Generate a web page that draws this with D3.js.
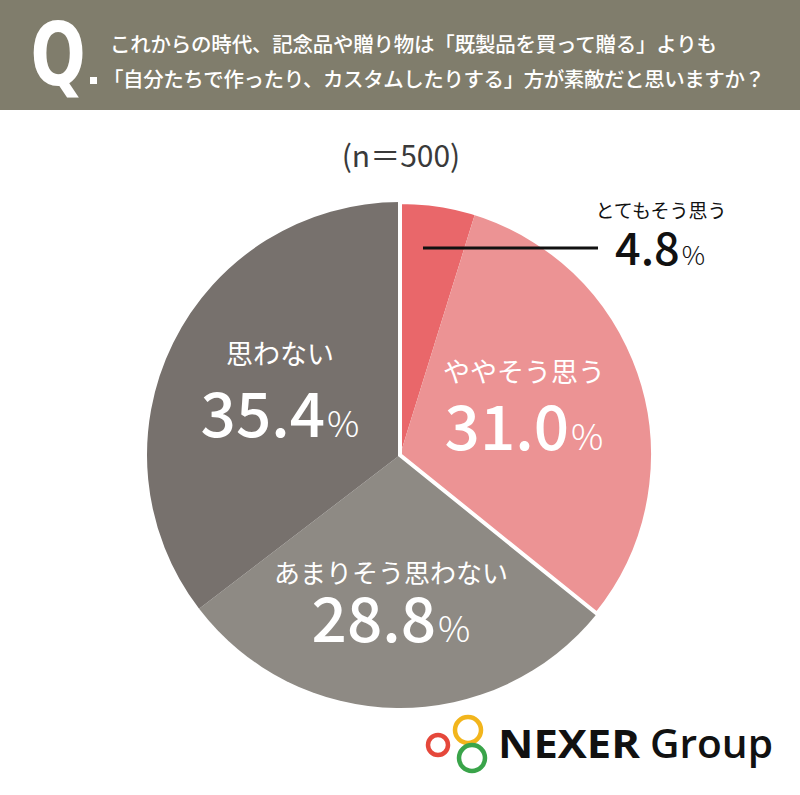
<!DOCTYPE html>
<html><head><meta charset="utf-8">
<script src="https://cdn.jsdelivr.net/npm/d3@7"></script>
<style>body{margin:0;background:#fff}svg{display:block}</style>
</head><body>
<script>
const categories = ["とてもそう思う","ややそう思う","あまりそう思わない","思わない"];
const values = [4.8, 31.0, 28.8, 35.4];
const colors = ["#e9676a","#ec9394","#8e8a84","#77716d"];
const question = ["これからの時代、記念品や贈り物は「既製品を買って贈る」よりも","「自分たちで作ったり、カスタムしたりする」方が素敵だと思いますか？"];
const sampleLabel = "(n=500)";

const W=800,H=795, cx=400, cy=455, R=253;
const jp = "'Noto Sans CJK JP','Noto Sans',sans-serif";
const num = "'Noto Sans CJK JP','Noto Sans',sans-serif";
const svg = d3.select("body").append("svg").attr("width",W).attr("height",H);

// header
svg.append("rect").attr("x",0).attr("y",0).attr("width",W).attr("height",110).attr("fill","#807d6c");
svg.append("text").attr("x",58).attr("y",85).attr("text-anchor","middle")
  .attr("font-family","'DejaVu Sans Condensed','DejaVu Sans',sans-serif").attr("font-weight","bold")
  .attr("font-size",88).attr("fill","#fff").attr("transform","translate(58,85) scale(0.82,1) translate(-58,-85)").text("Q");
svg.append("rect").attr("x",90).attr("y",77).attr("width",7).attr("height",7).attr("fill","#fff");
svg.append("text").attr("x",110).attr("y",52).attr("font-family",jp).attr("font-size",20.5).attr("font-weight",500)
  .attr("fill","#fff").attr("textLength",607).text(question[0]);
svg.append("text").attr("x",103).attr("y",87).attr("font-family",jp).attr("font-size",20.5).attr("font-weight",500)
  .attr("fill","#fff").attr("textLength",662).text(question[1]);

svg.append("text").attr("x",401).attr("y",167).attr("text-anchor","middle").attr("font-family",jp)
  .attr("font-size",30).attr("fill","#3a3a3a").text(sampleLabel.replace("=","＝"));

// pie
const pie = d3.pie().sort(null).value(d=>d)(values);
const arc = d3.arc().innerRadius(0).outerRadius(R);
const g = svg.append("g").attr("transform",`translate(${cx},${cy})`);
g.selectAll("path.s").data(pie).join("path").attr("class","s")
  .attr("d",arc).attr("fill",(d,i)=>colors[i]);
// white outline around the "agree" group
g.append("path").attr("d",arc({startAngle:pie[0].startAngle,endAngle:pie[1].endAngle}))
  .attr("fill","none").attr("stroke","#fff").attr("stroke-width",4).attr("stroke-linejoin","miter");

// labels
const labelPos = [null,{x:524,cat:382,num:450},{x:391,cat:583,num:642},{x:280,cat:364,num:437}];
const catSize=[0,27,26,27];
labelPos.forEach((p,i)=>{
  if(!p) return;
  svg.append("text").attr("x",p.x).attr("y",p.cat).attr("text-anchor","middle").attr("font-family",jp)
    .attr("font-size",catSize[i]).attr("fill","#fff").text(categories[i]);
  const t=svg.append("text").attr("x",p.x).attr("y",p.num).attr("text-anchor","middle").attr("font-family",num)
    .attr("fill","#fff");
  t.append("tspan").attr("font-size",62).attr("font-weight",500).text(values[i].toFixed(1));
  t.append("tspan").attr("font-size",36).attr("font-weight",300).attr("dx",2).text("%");
});
// small slice callout
svg.append("line").attr("x1",423).attr("x2",598).attr("y1",248).attr("y2",248).attr("stroke","#111").attr("stroke-width",3);
svg.append("text").attr("x",661).attr("y",218).attr("text-anchor","middle").attr("font-family",jp)
  .attr("font-size",19).attr("fill","#111").text(categories[0]);
const t0=svg.append("text").attr("x",615).attr("y",265).attr("font-family",num).attr("fill","#111");
t0.append("tspan").attr("font-size",45).attr("font-weight",500).text(values[0].toFixed(1));
t0.append("tspan").attr("font-size",26).attr("font-weight",300).attr("dx",2).text("%");

// logo
const lg=svg.append("g");
[[438,745,10,"#e5483b"],[468,730,13,"#f2b51c"],[472,758,13,"#3aa44a"]].forEach(c=>{
  lg.append("circle").attr("cx",c[0]).attr("cy",c[1]).attr("r",c[2]).attr("fill","none").attr("stroke",c[3]).attr("stroke-width",4.5);
});
lg.append("text").attr("x",498).attr("y",758).attr("font-family","'Open Sans',sans-serif").attr("font-weight",700)
  .attr("font-size",40).attr("fill","#111").attr("textLength",142).attr("lengthAdjust","spacingAndGlyphs").text("NEXER");
lg.append("text").attr("x",650).attr("y",758).attr("font-family","'Open Sans',sans-serif").attr("font-weight",600)
  .attr("font-size",40).attr("fill","#111").attr("textLength",123).attr("lengthAdjust","spacingAndGlyphs").text("Group");
</script>
</body></html>
